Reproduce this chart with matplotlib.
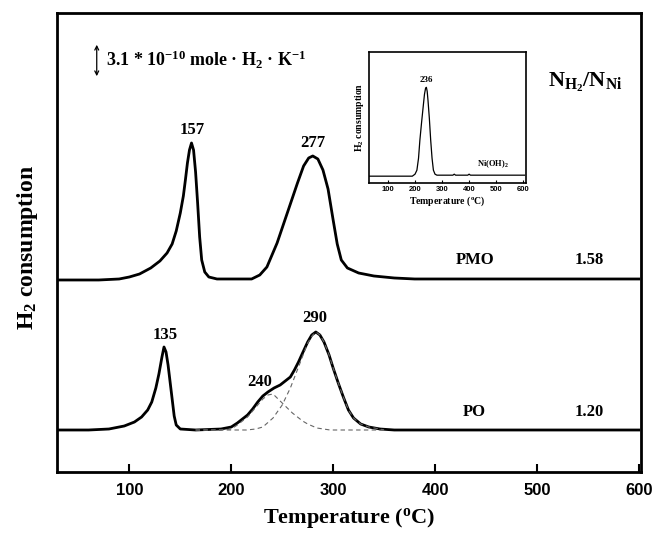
import matplotlib
matplotlib.use('Agg')
import matplotlib.pyplot as plt

plt.rcParams['font.family'] = ['Liberation Serif', 'DejaVu Serif']
plt.rcParams['font.weight'] = 'bold'
plt.rcParams['mathtext.default'] = 'regular'

# main TPR curves, temperature (C) and signal (arbitrary, offset per sample)
pmo_T = [30, 70, 90, 100, 110, 121, 130, 137, 142, 146, 150, 153, 155, 157, 159, 161, 163, 165, 167,
         169, 171, 174, 178, 186, 220, 228, 235, 245, 255, 265, 271, 276, 280, 285, 290, 295, 300,
         304, 308, 314, 325, 340, 360, 380, 600]
pmo_h = [192, 192, 193, 195, 198, 204, 211, 219, 228, 241, 259, 276, 292, 309, 322, 329, 322, 300, 269,
         235, 212, 200, 195, 193, 193, 197, 205, 229, 259, 289, 306, 314, 316, 313, 302, 283, 252,
         228, 212, 204, 199, 196, 194, 193, 193]

po_T = [30, 60, 80, 95, 105, 112, 118, 122, 126, 129, 132, 134, 136, 138, 140, 142, 144, 146, 150, 165,
        190, 200, 206, 211, 216, 221, 226, 231, 236, 242, 248, 253, 258, 262, 266, 270, 275, 279, 283,
        287, 291, 296, 300, 305, 310, 315, 320, 327, 335, 346, 360, 600]
po_h = [42, 42, 43, 46, 50, 55, 62, 70, 84, 98, 115, 125, 120, 107, 90, 73, 56, 47, 43, 42,
        43, 45, 49, 53, 57, 63, 70, 76, 80, 84, 87, 91, 95, 102, 110, 119, 130, 137, 140,
        137, 130, 117, 104, 89, 75, 62, 54, 48, 45, 43, 42, 42]

# deconvoluted components of the PO high temperature peak
fit1_T = [165, 190, 200, 206, 211, 216, 221, 226, 231, 236, 241, 245, 250, 255, 260, 265, 270, 275, 284, 297, 350]
fit1_h = [42, 42, 43, 47, 51, 55, 61, 67, 73, 77, 78, 74, 69, 64, 59, 55, 51, 48, 44, 42, 42]
fit2_T = [165, 215, 224, 231, 241, 250, 258, 266, 275, 280, 283, 287, 291, 296, 300, 305, 310, 315, 320, 327, 335, 346, 350]
fit2_h = [42, 42, 43, 45, 54, 67, 84, 105, 129, 137, 140, 137, 130, 117, 104, 89, 75, 62, 54, 48, 45, 43, 42]

# inset: Ni(OH)2 reference
ins_T = [30, 150, 190, 200, 207, 213, 218, 224, 230, 235, 239, 242, 245, 248, 253, 258, 263, 268, 274,
         281, 300, 340, 345, 350, 395, 400, 405, 450, 605]
ins_h = [7, 7, 7, 9, 13, 25, 43, 60, 76, 89, 95, 96, 92, 83, 65, 43, 25, 13, 9,
         8, 8, 8, 9, 8, 8, 9, 8, 8, 8]

peak_labels = [('157', 162, 342), ('277', 280, 329), ('135', 135, 137), ('290', 282, 154), ('240', 228, 90)]
samples = [('PMO', '1.58', 212), ('PO', '1.20', 60)]
ticks = [100, 200, 300, 400, 500, 600]

fig = plt.figure(figsize=(6.59, 5.34), dpi=100)
ax = fig.add_axes([0.0865, 0.1161, 0.886, 0.8596])

ax.plot(pmo_T, pmo_h, color='black', lw=2)
ax.plot(po_T, po_h, color='black', lw=2)
ax.plot(fit1_T, fit1_h, color='#666666', lw=0.8, ls=(0, (4, 3)))
ax.plot(fit2_T, fit2_h, color='#666666', lw=0.8, ls=(0, (4, 3)))

ax.set_xlim(29, 602)
ax.set_ylim(0, 459)
ax.set_yticks([])
ax.set_xticks(ticks)
ax.tick_params(axis='x', direction='in', length=6, width=1.5, pad=8)
for lab in ax.get_xticklabels():
    lab.set_fontfamily('Liberation Sans')
    lab.set_fontweight('bold')
    lab.set_fontsize(12)
for sp in ax.spines.values():
    sp.set_linewidth(2)

ax.set_xlabel('Temperature ($^{o}$C)', fontsize=16, fontweight='bold', labelpad=6)
fig.text(27 / 659, 1 - 248 / 534, 'H$_2$ consumption', rotation=90, ha='center', va='center',
         fontsize=17, fontweight='bold')

for txt, x, y in peak_labels:
    ax.text(x, y, txt, ha='center', va='center', fontsize=12, fontweight='bold')
for name, ratio, y in samples:
    ax.text(439, y, name, ha='center', va='center', fontsize=12, fontweight='bold')
    ax.text(551, y, ratio, ha='center', va='center', fontsize=12, fontweight='bold')

# scale bar
ax.annotate('', xy=(68, 393), xytext=(68, 430),
            arrowprops=dict(arrowstyle='<->', lw=0.9, color='black', mutation_scale=7))
ax.text(77, 412, '3.1 * 10$^{-10}$ mole \u00b7 H$_2$ \u00b7 K$^{-1}$', ha='left', va='center',
        fontsize=13, fontweight='bold')
ax.text(547, 390, 'N$_{H_2}$/N$_{Ni}$', ha='center', va='center', fontsize=16, fontweight='bold')

# inset
ins = fig.add_axes([0.560, 0.657, 0.238, 0.245])
ins.plot(ins_T, ins_h, color='black', lw=0.9)
ins.set_xlim(30, 610)
ins.set_ylim(0, 131)
ins.set_yticks([])
ins.set_xticks(ticks)
ins.tick_params(axis='x', direction='in', length=2.5, width=0.8, pad=2)
for lab in ins.get_xticklabels():
    lab.set_fontfamily('Liberation Sans')
    lab.set_fontweight('bold')
    lab.set_fontsize(5.5)
for sp in ins.spines.values():
    sp.set_linewidth(1.2)
ins.set_xlabel('Temperature ($^{o}$C)', fontsize=7, fontweight='bold', labelpad=1)
ins.set_ylabel('H$_2$ consumption', fontsize=7, fontweight='bold', labelpad=2)
ins.text(241, 99, '236', ha='center', va='bottom', fontsize=6.5, fontweight='bold')
ins.text(489, 13, 'Ni(OH)$_2$', ha='center', va='bottom', fontsize=6, fontweight='bold')

fig.savefig('out.png', dpi=100)
